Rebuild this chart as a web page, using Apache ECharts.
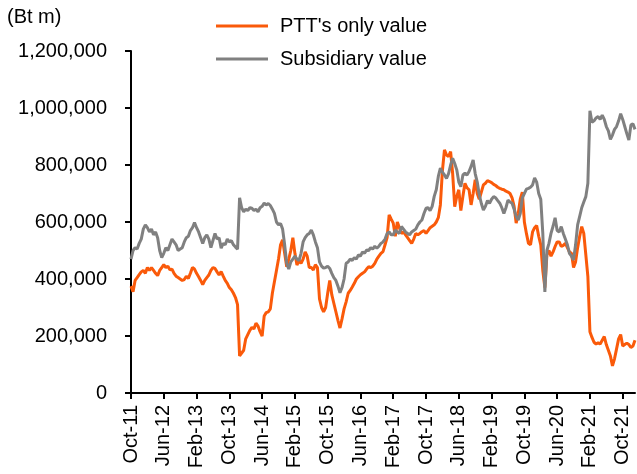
<!DOCTYPE html>
<html>
<head>
<meta charset="utf-8">
<script src="https://cdn.jsdelivr.net/npm/echarts@6/dist/echarts.min.js"></script>
<style>
html,body{margin:0;padding:0;background:#fff;}
#chart{width:637px;height:474px;}
</style>
</head>
<body>
<div id="chart"></div>
<script>
// Half-monthly categories, Oct-2011 .. Jan-2022
const startYear = 2011, startMonth = 9; // October (0-based)
const pointCount = 247;
const monthNames = ["Jan","Feb","Mar","Apr","May","Jun","Jul","Aug","Sep","Oct","Nov","Dec"];
const categories = [];
for (let k = 0; k < pointCount; k++) {
  const mi = startMonth + Math.floor(k / 2);
  const y = startYear + Math.floor(mi / 12);
  const lbl = monthNames[mi % 12] + "-" + String(y % 100).padStart(2, "0");
  categories.push(k % 2 === 0 ? lbl : lbl + " mid");
}
const tickLabels = ["Oct-11","Jun-12","Feb-13","Oct-13","Jun-14","Feb-15","Oct-15","Jun-16","Feb-17","Oct-17","Jun-18","Feb-19","Oct-19","Jun-20","Feb-21","Oct-21"];

const seriesNames = ["PTT's only value", "Subsidiary value"];

// PTT's only value (Bt m), thousands, half-monthly
const pttOnlyK = [
  375,355,395,405,415,425,430,420,440,430,
  440,430,420,412,430,440,450,440,445,432,
  435,420,410,405,400,395,398,410,402,420,
  440,435,420,408,395,380,395,405,414,430,
  440,437,425,414,426,410,395,385,370,362,
  350,335,310,130,140,150,190,205,220,230,
  225,245,235,215,200,270,282,285,295,350,
  390,430,470,520,537,490,443,470,500,545,
  490,449,465,455,470,495,480,440,440,432,
  450,440,330,300,285,300,350,395,345,315,
  285,255,228,260,295,320,350,360,372,385,
  400,408,415,420,425,435,443,440,445,455,
  470,480,490,496,520,545,625,610,596,550,
  600,580,560,565,555,545,535,525,540,560,
  555,560,566,570,560,570,580,585,590,600,
  615,660,780,853,835,830,847,770,654,690,
  713,640,690,736,720,713,660,700,748,700,
  680,705,730,736,745,742,738,732,728,722,
  718,715,713,708,705,700,685,655,596,630,
  680,705,600,560,525,520,565,580,588,550,
  520,430,370,485,500,480,495,514,530,530,
  514,518,525,510,495,490,440,460,510,550,
  584,560,485,408,215,195,178,172,176,172,
  185,198,170,150,130,95,120,155,190,205,
  165,170,175,170,160,165,185
];

// Subsidiary value (Bt m), thousands, half-monthly
const subsidiaryK = [
  470,500,510,505,525,540,575,590,580,565,
  575,555,565,545,500,475,490,510,500,520,
  540,530,520,500,505,510,530,545,550,570,
  580,598,580,565,545,525,545,555,540,510,
  535,560,540,545,508,525,520,540,530,535,
  520,512,505,685,650,636,645,640,650,648,
  640,645,636,650,655,666,660,665,658,645,
  630,600,590,595,575,520,455,435,460,470,
  480,470,465,490,530,545,555,560,572,555,
  530,510,460,445,438,440,445,437,420,405,
  395,375,352,370,400,455,460,470,465,475,
  470,485,480,495,490,502,500,510,505,515,
  508,515,525,530,540,560,565,555,555,572,
  565,560,584,575,565,560,555,565,570,575,
  590,600,607,630,648,650,640,655,690,713,
  760,789,775,765,753,770,800,824,805,783,
  740,724,765,771,765,777,795,818,770,740,
  695,665,642,655,675,666,680,689,685,675,
  666,650,630,650,677,670,666,645,619,607,
  630,685,700,715,718,722,730,755,740,700,
  680,560,355,500,525,560,585,615,570,565,
  584,560,540,520,490,480,467,520,590,620,
  650,670,689,736,990,950,955,965,970,960,
  975,960,935,920,890,905,925,935,955,980,
  960,935,910,888,940,945,925
];

const pttOnly = pttOnlyK.map(v => v * 1000);
const subsidiary = subsidiaryK.map(v => v * 1000);

const FONT = "'Liberation Sans', Arial, sans-serif";
const chart = echarts.init(document.getElementById('chart'), null, {renderer: 'canvas'});
chart.setOption({
  animation: false,
  backgroundColor: '#ffffff',
  title: {
    text: '(Bt m)',
    left: 2, top: 2,
    textStyle: {fontFamily: FONT, fontSize: 20, fontWeight: 'normal', color: '#000'}
  },
  legend: {
    data: seriesNames,
    orient: 'vertical',
    left: 216, top: 16,
    padding: 0,
    icon: 'rect',
    itemWidth: 52, itemHeight: 3, itemGap: 13,
    textStyle: {fontFamily: FONT, fontSize: 20, color: '#000', padding: [0,0,0,7]}
  },
  grid: {left: 131, right: 2, top: 51, bottom: 81, containLabel: false},
  xAxis: {
    type: 'category',
    data: categories,
    boundaryGap: false,
    axisLine: {show: true, lineStyle: {color: '#000', width: 2}},
    axisTick: {
      show: true, length: 6, inside: false,
      lineStyle: {color: '#000', width: 2},
      interval: function (i, v) { return tickLabels.indexOf(v) >= 0; }
    },
    axisLabel: {
      rotate: 90, margin: 12,
      fontFamily: FONT, fontSize: 20, color: '#000',
      interval: function (i, v) { return tickLabels.indexOf(v) >= 0; }
    },
    splitLine: {show: false}
  },
  yAxis: {
    type: 'value',
    min: 0, max: 1200000, interval: 200000,
    axisLine: {show: true, lineStyle: {color: '#000', width: 2}},
    axisTick: {show: true, length: 6, inside: false, lineStyle: {color: '#000', width: 2}},
    axisLabel: {
      margin: 24, fontFamily: FONT, fontSize: 20, color: '#000',
      formatter: function (v) { return v.toLocaleString('en-US'); }
    },
    splitLine: {show: false}
  },
  series: [
    {
      name: seriesNames[0], type: 'line', data: pttOnly,
      symbol: 'none', smooth: false,
      lineStyle: {color: '#FA5A0A', width: 3},
      itemStyle: {color: '#FA5A0A'}
    },
    {
      name: seriesNames[1], type: 'line', data: subsidiary,
      symbol: 'none', smooth: false,
      lineStyle: {color: '#808080', width: 3},
      itemStyle: {color: '#808080'}
    }
  ]
});
</script>
</body>
</html>
